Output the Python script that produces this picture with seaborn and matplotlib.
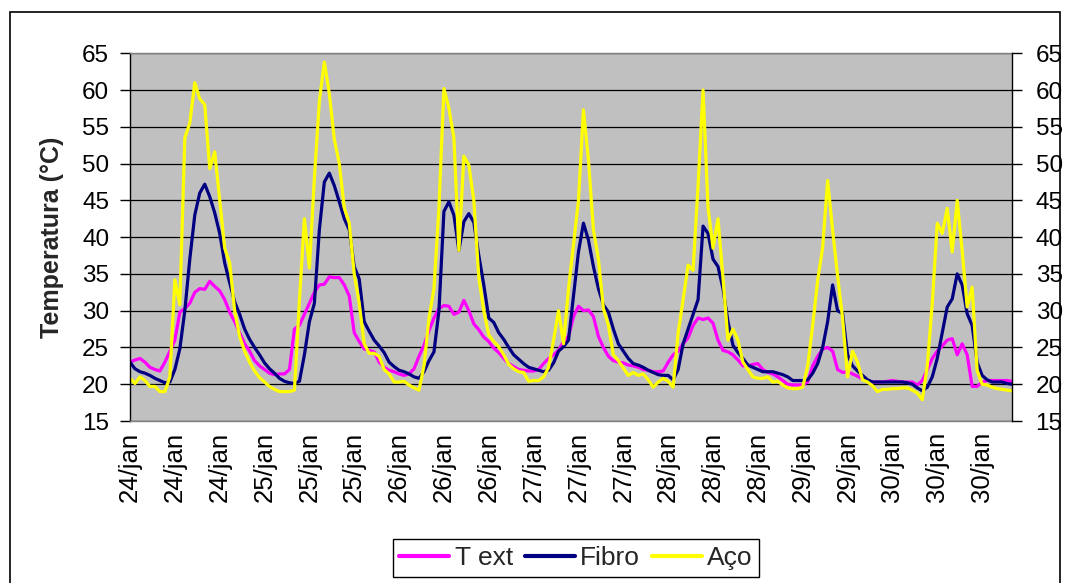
import numpy as np
import pandas as pd
import matplotlib
matplotlib.use("Agg")
import matplotlib.pyplot as plt
import seaborn as sns
from matplotlib.patches import Rectangle

# Temperature readings (°C), one reading per step, three sensors
t_ext = [
    23.0, 23.3, 23.5, 23.0, 22.3, 22.0, 21.8, 23.0, 24.5, 26.0,
    29.8, 30.3, 31.0, 32.5, 33.0, 32.9, 34.0, 33.3, 32.7, 31.5,
    29.8, 28.5, 27.0, 25.5, 24.5, 23.2, 22.5, 22.0, 21.5, 21.3,
    21.4, 21.4, 22.0, 27.5, 28.0, 29.5, 31.0, 32.5, 33.5, 33.6,
    34.6, 34.5, 34.5, 33.5, 32.0, 27.0, 25.8, 24.8, 24.6, 24.4,
    23.0, 22.3, 21.9, 21.7, 21.4, 21.2, 21.4, 22.1, 23.8, 25.3,
    27.3, 29.0, 30.3, 30.7, 30.6, 29.5, 29.8, 31.4, 30.0, 28.2,
    27.4, 26.4, 25.8, 24.9, 24.3, 23.5, 22.8, 22.4, 22.0, 21.9,
    21.8, 21.8, 22.0, 22.8, 23.5, 24.0, 24.6, 25.8, 26.5, 29.2,
    30.6, 30.0, 30.1, 29.2, 26.5, 25.0, 23.8, 23.2, 23.0, 22.9,
    22.6, 22.5, 22.3, 22.0, 21.9, 21.7, 21.7, 21.8, 23.0, 24.0,
    24.5, 25.5, 26.3, 28.0, 29.0, 28.8, 29.0, 28.3, 26.0, 24.6,
    24.4, 24.0, 23.3, 22.5, 22.5, 22.7, 22.8, 22.0, 21.6, 21.4,
    21.0, 20.5, 20.0, 19.9, 19.9, 19.9, 20.3, 22.5, 23.8, 24.8,
    25.0, 24.5, 22.0, 21.6, 21.7, 21.4, 21.1, 20.7, 20.5, 20.3,
    20.3, 20.3, 20.4, 20.5, 20.4, 20.3, 20.3, 20.3, 19.9, 20.5,
    22.0, 23.5, 24.5, 25.2, 26.0, 26.2, 24.0, 25.5, 24.0, 19.7,
    19.7, 20.3, 20.5, 20.5, 20.5, 20.5, 20.5, 20.4,
]

fibro = [
    23.0, 22.1, 21.7, 21.5, 21.2, 20.8, 20.5, 20.2, 20.3, 22.0,
    24.8, 30.0, 37.0, 43.0, 46.0, 47.2, 45.5, 43.3, 40.5, 36.5,
    33.8, 31.2, 29.5, 27.5, 26.1, 25.0, 24.0, 22.9, 22.1, 21.5,
    20.8, 20.4, 20.2, 20.1, 20.4, 24.0, 28.5, 31.0, 41.0, 47.5,
    48.7, 47.0, 44.8, 42.5, 41.0, 36.0, 34.3, 28.5, 27.2, 26.0,
    25.2, 24.3, 23.0, 22.4, 21.9, 21.7, 21.4, 21.0, 20.8, 21.7,
    23.2, 24.4, 30.0, 43.5, 44.8, 43.0, 38.2, 42.1, 43.2, 42.0,
    37.5, 33.5, 29.0, 28.4, 27.0, 26.1, 25.0, 24.0, 23.4, 22.8,
    22.3, 22.1, 21.9, 21.7, 21.9, 22.9, 24.5, 25.1, 26.0, 32.0,
    38.0, 41.9, 39.6, 36.0, 33.0, 30.8, 29.8, 27.5, 25.5, 24.5,
    23.5, 22.8, 22.6, 22.3, 21.9, 21.6, 21.3, 21.2, 21.2, 20.6,
    22.0, 25.5, 27.5, 29.5, 31.5, 41.5, 40.5, 37.0, 36.0, 33.0,
    28.5, 25.3, 24.3, 23.5, 22.6, 22.3, 22.0, 21.7, 21.7, 21.7,
    21.5, 21.3, 21.0, 20.5, 20.5, 20.5, 20.6, 21.5, 22.8, 25.0,
    28.5, 33.5, 30.0, 29.6, 24.0, 22.5, 21.8, 21.2, 20.6, 20.3,
    20.3, 20.3, 20.3, 20.3, 20.3, 20.3, 20.2, 20.0, 19.5, 19.1,
    19.6, 21.0, 23.5, 27.0, 30.5, 31.6, 35.0, 33.5, 29.6, 28.0,
    23.0, 21.2, 20.6, 20.3, 20.3, 20.3, 20.1, 20.0,
]

aco = [
    20.8, 20.1, 21.0, 20.5, 19.7, 19.7, 19.0, 19.0, 21.0, 34.2,
    30.8, 53.5, 55.5, 61.0, 58.8, 58.0, 49.3, 51.6, 45.0, 38.5,
    36.5, 30.0, 26.5, 24.5, 23.0, 21.8, 20.9, 20.3, 19.7, 19.3,
    19.0, 19.0, 19.0, 19.2, 31.4, 42.5, 35.8, 48.0, 58.5, 63.8,
    59.5, 53.3, 50.0, 44.0, 41.9, 35.0, 31.0, 25.5, 24.2, 24.2,
    23.8, 22.0, 21.4, 20.3, 20.3, 20.4, 19.9, 19.5, 19.2, 22.5,
    29.0, 33.0, 44.0, 60.2, 57.5, 53.5, 38.2, 51.0, 49.8, 45.0,
    34.5, 30.0, 26.7, 25.8, 25.1, 24.0, 22.7, 22.1, 21.7, 21.6,
    20.4, 20.5, 20.5, 21.0, 22.3, 26.0, 30.0, 25.5, 33.0, 39.0,
    45.0, 57.3, 50.5, 41.0, 37.0, 30.3, 28.0, 24.0, 23.2, 22.2,
    21.2, 21.6, 21.2, 21.4, 20.6, 19.6, 20.3, 20.8, 20.4, 19.6,
    27.0, 31.5, 36.2, 35.5, 47.0, 60.0, 44.0, 38.5, 42.5, 34.5,
    26.0, 27.5, 26.0, 23.0, 22.0, 21.0, 20.8, 20.8, 21.0, 20.3,
    20.4, 19.9, 19.5, 19.4, 19.4, 19.6, 22.5, 28.0, 34.1, 38.6,
    47.7, 41.0, 34.7, 29.0, 21.0, 24.5, 23.0, 20.6, 20.3, 19.8,
    19.0, 19.3, 19.3, 19.4, 19.4, 19.5, 19.5, 19.2, 18.8, 17.9,
    22.5, 31.0, 41.9, 40.5, 43.9, 38.0, 45.0, 38.2, 30.5, 33.2,
    21.9, 20.0, 19.9, 19.6, 19.4, 19.3, 19.2, 19.1,
]

series_names = ["T ext", "Fibro", "Aço"]
series_colors = ["#FF00FF", "#000080", "#FFFF00"]

date_labels = [
    "24/jan", "24/jan", "24/jan", "25/jan", "25/jan", "25/jan",
    "26/jan", "26/jan", "26/jan", "27/jan", "27/jan", "27/jan",
    "28/jan", "28/jan", "28/jan", "29/jan", "29/jan",
    "30/jan", "30/jan", "30/jan",
]
label_every = 9

y_ticks = list(range(15, 70, 5))

# ---- long-form table for seaborn ----
n = len(t_ext)
step = np.arange(n)
df = pd.DataFrame({
    "leitura": np.tile(step, 3),
    "temp": np.concatenate([t_ext, fibro, aco]),
    "serie": np.repeat(series_names, n),
})

sns.set_theme(style="white")
plt.rcParams["font.family"] = ["Liberation Sans", "DejaVu Sans"]

W, H = 1066, 583
fig = plt.figure(figsize=(W / 100, H / 100), dpi=100)
fig.patch.set_facecolor("white")

left, right, top, bottom = 130, 1012, 53.25, 421
ax = fig.add_axes([left / W, 1 - bottom / H, (right - left) / W, (bottom - top) / H])
ax.set_facecolor("#C0C0C0")

sns.lineplot(
    data=df, x="leitura", y="temp", hue="serie",
    hue_order=series_names, palette=series_colors,
    linewidth=2.3, estimator=None, sort=False, legend=False, ax=ax,
)

TICK_FS = 17.5
ax.set_xlim(0, n - 1)
ax.set_ylim(15, 65)
ax.set_yticks(y_ticks)
ax.set_yticklabels([str(v) for v in y_ticks], fontsize=TICK_FS)
ax.set_xticks(step[::label_every])
ax.set_xticklabels(date_labels, rotation=90, fontsize=18.5)
ax.set_xlabel("")
ax.set_ylabel("Temperatura (°C)", fontsize=18, fontweight="bold")
ax.yaxis.label.set_verticalalignment("center")
ax.yaxis.set_label_coords((52 - left) / (right - left), 0.5)

ax.set_axisbelow(True)
ax.yaxis.grid(True, color="black", linewidth=0.9)
ax.xaxis.grid(False)

ax.tick_params(axis="y", direction="out", length=7, width=1, color="black",
               pad=8, labelcolor="black", left=True)
ax.tick_params(axis="x", length=0, pad=8, labelcolor="black")

for side in ["top", "bottom"]:
    ax.spines[side].set_color("#808080")
    ax.spines[side].set_linewidth(1.0)
ax.spines["left"].set_color("black")
ax.spines["left"].set_linewidth(1.0)
ax.spines["right"].set_visible(False)

# secondary value axis on the right, same scale
ax2 = ax.twinx()
ax2.set_ylim(15, 65)
ax2.set_yticks(y_ticks)
ax2.set_yticklabels([str(v) for v in y_ticks], fontsize=TICK_FS)
ax2.tick_params(axis="y", direction="out", length=7, width=1, color="black",
                pad=10, labelcolor="black", right=True)
for side in ["top", "bottom", "left"]:
    ax2.spines[side].set_visible(False)
ax2.spines["right"].set_color("black")
ax2.spines["right"].set_linewidth(1.0)
ax2.grid(False)

# legend below the plot
handles = ax.get_lines()[:3]
leg = fig.legend(
    handles, series_names, loc="center",
    bbox_to_anchor=(576 / W, 1 - 558 / H), ncol=3,
    frameon=True, fancybox=False, edgecolor="black", framealpha=1,
    fontsize=19, handlelength=1.9, handletextpad=0.2,
    columnspacing=0.45, borderpad=0.25,
)
leg.get_frame().set_linewidth(1.0)
for line in leg.get_lines():
    line.set_linewidth(3)

# chart area border
fig.patches.append(Rectangle(
    (10 / W, -0.1), (1060 - 10) / W, (H - 12) / H + 0.1,
    transform=fig.transFigure, fill=False, edgecolor="black", linewidth=1.2,
))

fig.savefig("out.png", dpi=100)
